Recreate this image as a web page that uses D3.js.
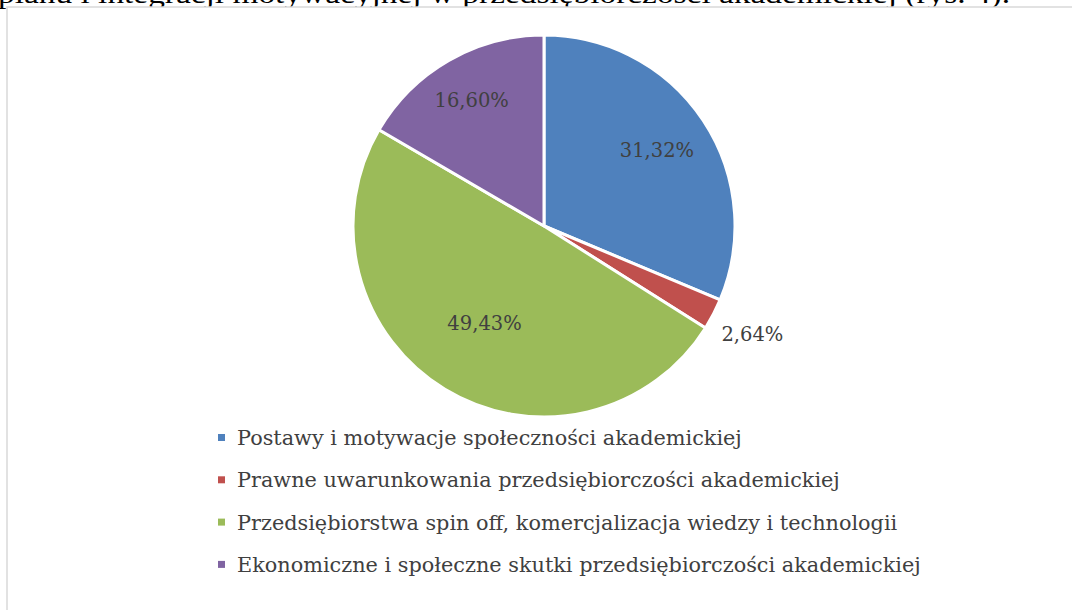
<!DOCTYPE html>
<html><head><meta charset="utf-8">
<script src="https://cdn.jsdelivr.net/npm/d3@7"></script>
<style>html,body{margin:0;padding:0;background:#fff;overflow:hidden}</style>
</head><body>
<svg id="c" width="1072" height="610"></svg>
<script>
const categories = [
  "Postawy i motywacje społeczności akademickiej",
  "Prawne uwarunkowania przedsiębiorczości akademickiej",
  "Przedsiębiorstwa spin off, komercjalizacja wiedzy i technologii",
  "Ekonomiczne i społeczne skutki przedsiębiorczości akademickiej"
];
const values = [31.32, 2.64, 49.43, 16.60];
const valueLabels = ["31,32%", "2,64%", "49,43%", "16,60%"];
const colors = ["#4f81bd", "#c0504d", "#9bbb59", "#8064a2"];
const pageText = "planu i integracji motywacyjnej w przedsiębiorczości akademickiej (rys. 4).";
// label placement (fraction of radius) per slice, like Excel's best fit
const labelRadius = [0.71, 1.23, 0.60, 0.76];

const svg = d3.select("#c");
const W = 1072, H = 610;
svg.append("rect").attr("width", W).attr("height", H).attr("fill", "#fff");

// clipped line of document text above the chart
svg.append("text").attr("x", -2).attr("y", 3)
  .attr("font-family", "Liberation Serif, serif").attr("font-size", 27)
  .attr("fill", "#000").attr("textLength", 1012).attr("lengthAdjust", "spacingAndGlyphs")
  .text(pageText);

// chart frame
svg.append("rect").attr("x", 7).attr("y", 7).attr("width", W + 20).attr("height", H + 20)
  .attr("fill", "#fff").attr("stroke", "#d9d9d9").attr("stroke-width", 1.5);

const cx = 544, cy = 226, r = 191;
const g = svg.append("g").attr("transform", `translate(${cx},${cy})`);
const pie = d3.pie().sort(null).value(d => d);
const arcs = pie(values);
const arc = d3.arc().innerRadius(0).outerRadius(r);
g.selectAll("path").data(arcs).enter().append("path")
  .attr("d", arc).attr("fill", (d, i) => colors[i])
  .attr("stroke", "#fff").attr("stroke-width", 3).attr("stroke-linejoin", "round");

g.selectAll("text.lbl").data(arcs).enter().append("text").attr("class", "lbl")
  .attr("transform", (d, i) => {
    const lr = r * labelRadius[i];
    const p = d3.arc().innerRadius(lr).outerRadius(lr).centroid(d);
    return `translate(${p[0]},${p[1]})`;
  })
  .attr("text-anchor", "middle").attr("dominant-baseline", "central")
  .attr("font-family", "DejaVu Serif, serif").attr("font-size", 19.5)
  .attr("fill", "#404040")
  .text((d, i) => valueLabels[i]);

// legend
const leg = svg.append("g");
const y0 = 438, dy = 42.3;
categories.forEach((c, i) => {
  const y = y0 + i * dy;
  leg.append("rect").attr("x", 218).attr("y", y - 4).attr("width", 7).attr("height", 7).attr("fill", colors[i]);
  leg.append("text").attr("x", 237).attr("y", y).attr("dominant-baseline", "central")
    .attr("font-family", "DejaVu Serif, serif").attr("font-size", 20.8).attr("fill", "#404040")
    .text(c);
});
</script>
</body></html>
